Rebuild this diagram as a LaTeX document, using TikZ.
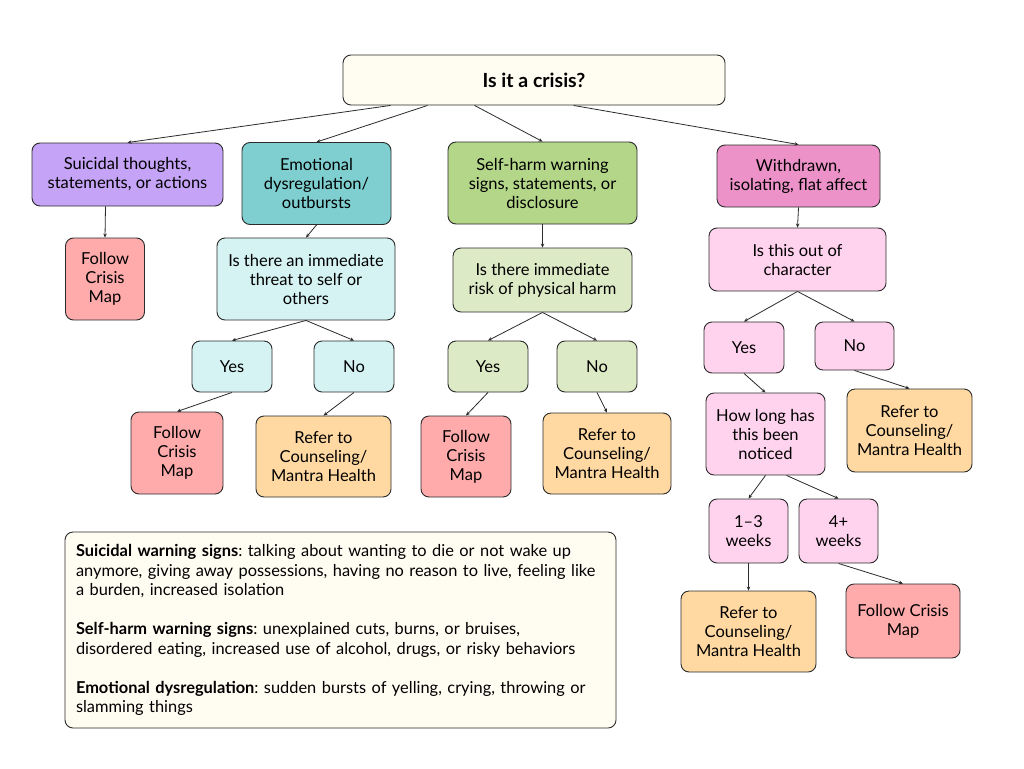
\documentclass[tikz,border=0pt]{standalone}
\usepackage{fontspec}
\setmainfont{Lato}
\usepackage{tikz}
\usepackage{xcolor}
\usetikzlibrary{arrows.meta}
\frenchspacing
\definecolor{linecolor}{HTML}{2B2B2B}
\definecolor{creamc}{HTML}{FFFCF2}
\definecolor{purplec}{HTML}{C5A3F7}
\definecolor{tealc}{HTML}{7FCFD1}
\definecolor{greenc}{HTML}{B3D689}
\definecolor{pinkc}{HTML}{EC92C9}
\definecolor{lcyanc}{HTML}{D6F3F4}
\definecolor{lgreenc}{HTML}{DDEAC6}
\definecolor{lpinkc}{HTML}{FFD2EE}
\definecolor{redc}{HTML}{FFABAB}
\definecolor{orangec}{HTML}{FFD9A1}
\tikzstyle{flowbox} = [
    draw=linecolor,
    line width=0.9pt,
    rectangle,
    rounded corners=8pt,
    inner sep=0pt,
    align=center,
    font=\fontsize{16.5}{19}\selectfont
    ]
\tikzstyle{titlebox} = [
    flowbox,
    fill=creamc,
    font=\fontsize{19.5}{22}\selectfont\bfseries
    ]
\tikzstyle{notebox} = [
    flowbox,
    fill=creamc,
    align=left,
    text width=529pt,
    font=\fontsize{16.4}{19.5}\selectfont
    ]
\tikzstyle{flowarrow} = [
    draw=linecolor,
    line width=0.8pt,
    -{Stealth[length=4pt,width=3.5pt]}
    ]

\begin{document}
\begin{tikzpicture}[x=1pt,y=-1pt]
\useasboundingbox[fill=white] (0,0) rectangle (1024,768);
% question at the top
\node[titlebox, minimum width=382pt, minimum height=50pt] (crisis) at (534,80) {Is it a crisis?};
% first row
\node[flowbox, fill=purplec, minimum width=191pt, minimum height=63pt] (suicidal) at (127.5,174.5) {Suicidal thoughts,\\statements, or actions};
\node[flowbox, fill=tealc, minimum width=149pt, minimum height=82pt] (emotional) at (316.5,183.5) {Emotional\\dysregulation/\\outbursts};
\node[flowbox, fill=greenc, minimum width=189pt, minimum height=82pt] (selfharm) at (542.5,183) {Self-harm warning\\signs, statements, or\\disclosure};
\node[flowbox, fill=pinkc, minimum width=163pt, minimum height=62pt] (withdrawn) at (798.5,176) {Withdrawn,\\isolating, flat affect};
% second row
\node[flowbox, fill=redc, minimum width=79pt, minimum height=82pt] (suicidal crisis) at (105,279) {Follow\\Crisis\\Map};
\node[flowbox, fill=lcyanc, minimum width=178pt, minimum height=82pt] (emotional q) at (306,279) {Is there an immediate\\threat to self or\\others};
\node[flowbox, fill=lgreenc, minimum width=179pt, minimum height=64pt] (selfharm q) at (542.5,280) {Is there immediate\\risk of physical harm};
\node[flowbox, fill=lpinkc, minimum width=177pt, minimum height=63pt] (withdrawn q) at (797.5,259.5) {Is this out of\\character};
% emotional branch
\node[flowbox, fill=lcyanc, minimum width=80pt, minimum height=51pt] (emotional yes) at (232,366.5) {Yes};
\node[flowbox, fill=lcyanc, minimum width=80pt, minimum height=51pt] (emotional no) at (354,366.5) {No};
\node[flowbox, fill=redc, minimum width=92pt, minimum height=82pt] (emotional crisis) at (177,453) {Follow\\Crisis\\Map};
\node[flowbox, fill=orangec, minimum width=135pt, minimum height=81pt] (emotional refer) at (323.5,456.5) {Refer to\\Counseling/\\Mantra Health};
% self-harm branch
\node[flowbox, fill=lgreenc, minimum width=80pt, minimum height=51pt] (selfharm yes) at (488,366.5) {Yes};
\node[flowbox, fill=lgreenc, minimum width=80pt, minimum height=51pt] (selfharm no) at (597,366.5) {No};
\node[flowbox, fill=redc, minimum width=90pt, minimum height=81pt] (selfharm crisis) at (466,456.5) {Follow\\Crisis\\Map};
\node[flowbox, fill=orangec, minimum width=128pt, minimum height=81pt] (selfharm refer) at (607,453.5) {Refer to\\Counseling/\\Mantra Health};
% withdrawn branch
\node[flowbox, fill=lpinkc, minimum width=80pt, minimum height=51pt] (withdrawn yes) at (744,347.5) {Yes};
\node[flowbox, fill=lpinkc, minimum width=79pt, minimum height=48pt] (withdrawn no) at (854.5,346) {No};
\node[flowbox, fill=lpinkc, minimum width=119pt, minimum height=82pt] (howlong) at (765.5,434) {How long has\\this been\\noticed};
\node[flowbox, fill=orangec, minimum width=125pt, minimum height=83pt] (withdrawn refer) at (909.5,430.5) {Refer to\\Counseling/\\Mantra Health};
\node[flowbox, fill=lpinkc, minimum width=79pt, minimum height=64pt] (short) at (748.5,531) {1--3\\weeks};
\node[flowbox, fill=lpinkc, minimum width=79pt, minimum height=64pt] (long) at (838.5,531) {4+\\weeks};
\node[flowbox, fill=orangec, minimum width=135pt, minimum height=81pt] (short refer) at (748.5,631.5) {Refer to\\Counseling/\\Mantra Health};
\node[flowbox, fill=redc, minimum width=114pt, minimum height=74pt] (long crisis) at (903,621) {Follow Crisis\\Map};
% notes
\node[notebox, minimum width=551pt, minimum height=196pt] (notes) at (340.5,630) {%
\textbf{Suicidal warning signs}: talking about wanting to die or not wake up\\
anymore, giving away possessions, having no reason to live, feeling like\\
a burden, increased isolation\\[19.5pt]
\textbf{Self-harm warning signs}: unexplained cuts, burns, or bruises,\\
disordered eating, increased use of alcohol, drugs, or risky behaviors\\[19.5pt]
\textbf{Emotional dysregulation}: sudden bursts of yelling, crying, throwing or\\
slamming things};
% connectors
\draw[flowarrow] ([xshift=48pt]crisis.south west) -- (suicidal.north);
\draw[flowarrow] ([xshift=85pt]crisis.south west) -- (emotional.north);
\draw[flowarrow] ([xshift=132pt]crisis.south west) -- (selfharm.north);
\draw[flowarrow] ([xshift=231pt]crisis.south west) -- (withdrawn.north);
\draw[flowarrow] ([xshift=-22pt]suicidal.south) -- (suicidal crisis.north);
\draw[flowarrow] (emotional.south) -- (emotional q.north);
\draw[flowarrow] (selfharm.south) -- (selfharm q.north);
\draw[flowarrow] (withdrawn.south) -- (withdrawn q.north);
\draw[flowarrow] (emotional q.south) -- (emotional yes.north);
\draw[flowarrow] (emotional q.south) -- (emotional no.north);
\draw[flowarrow] (emotional yes.south) -- (emotional crisis.north);
\draw[flowarrow] (emotional no.south) -- (emotional refer.north);
\draw[flowarrow] (selfharm q.south) -- (selfharm yes.north);
\draw[flowarrow] (selfharm q.south) -- (selfharm no.north);
\draw[flowarrow] (selfharm yes.south) -- (selfharm crisis.north);
\draw[flowarrow] (selfharm no.south) -- (selfharm refer.north);
\draw[flowarrow] (withdrawn q.south) -- (withdrawn yes.north);
\draw[flowarrow] (withdrawn q.south) -- (withdrawn no.north);
\draw[flowarrow] (withdrawn yes.south) -- (howlong.north);
\draw[flowarrow] (withdrawn no.south) -- (withdrawn refer.north);
\draw[flowarrow] (howlong.south) -- (short.north);
\draw[flowarrow] ([xshift=21pt]howlong.south) -- (long.north);
\draw[flowarrow] (short.south) -- (short refer.north);
\draw[flowarrow] (long.south) -- (long crisis.north);
\end{tikzpicture}
\end{document}
